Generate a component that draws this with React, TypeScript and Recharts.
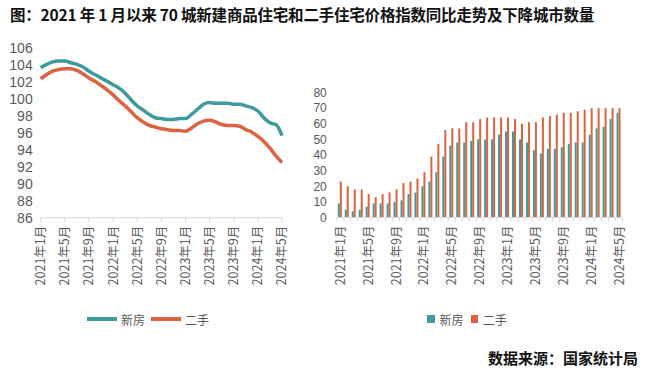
import React from 'react';
import { LineChart, Line, BarChart, Bar, XAxis, YAxis } from 'recharts';

const months: string[] = [
  '2021年1月','2021年2月','2021年3月','2021年4月','2021年5月','2021年6月','2021年7月','2021年8月','2021年9月','2021年10月','2021年11月','2021年12月',
  '2022年1月','2022年2月','2022年3月','2022年4月','2022年5月','2022年6月','2022年7月','2022年8月','2022年9月','2022年10月','2022年11月','2022年12月',
  '2023年1月','2023年2月','2023年3月','2023年4月','2023年5月','2023年6月','2023年7月','2023年8月','2023年9月','2023年10月','2023年11月','2023年12月',
  '2024年1月','2024年2月','2024年3月','2024年4月','2024年5月',
];

const newIndex: number[] = [
  103.7,104.1,104.4,104.5,104.5,104.3,104.1,103.8,103.3,102.9,102.5,102.1,
  101.7,101.3,100.7,99.9,99.2,98.7,98.2,97.8,97.7,97.6,97.6,97.7,
  97.7,98.2,98.8,99.4,99.6,99.5,99.5,99.5,99.4,99.4,99.2,99.0,
  98.6,97.8,97.2,97.0,95.7,
];
const usedIndex: number[] = [
  102.4,102.9,103.3,103.5,103.6,103.6,103.4,103.0,102.5,102.1,101.6,101.1,
  100.5,99.8,99.2,98.5,97.8,97.3,96.9,96.7,96.5,96.4,96.3,96.3,
  96.2,96.6,97.1,97.4,97.5,97.3,97.0,96.9,96.9,96.8,96.4,96.1,
  95.6,95.0,94.2,93.3,92.5,
];

const newDecline: number[] = [
  9,5,4,5,7,9,9,9,10,11,15,16,
  20,23,29,39,46,48,48,49,50,50,50,53,
  55,55,50,48,43,41,44,44,45,47,48,48,
  53,57,58,63,67,
];
const usedDecline: number[] = [
  23,20,18,18,15,13,15,16,18,22,23,25,
  29,39,47,56,57,57,61,61,63,64,64,64,
  64,63,60,61,61,64,65,66,67,67,68,69,
  70,70,70,70,70,
];

const leftTicks: number[] = [86, 88, 90, 92, 94, 96, 98, 100, 102, 104, 106];
const rightTicks: number[] = [0, 10, 20, 30, 40, 50, 60, 70, 80];

const lineData = months.map((m, i) => ({ month: m, 新房: newIndex[i], 二手: usedIndex[i] }));
const barData = months.map((m, i) => ({ month: m, 新房: newDecline[i], 二手: usedDecline[i] }));

const TEAL = '#3E9A9C';
const ORANGE = '#DC6341';
const TEXT = '#595959';
const AXIS = '#D9D9D9';
const FONT = '"Noto Sans CJK SC", "Noto Sans", sans-serif';
const NUMFONT = '"Liberation Sans", Arial, sans-serif';

const LeftTick = (props: any) => {
  const { x, y, payload } = props;
  return (
    <text
      transform={`rotate(-90, ${x}, ${y})`}
      x={x}
      y={y}
      dy="0.36em"
      textAnchor="end"
      fontSize={12.5}
      fill={TEXT}
      fontFamily={FONT}
    >
      {payload.value}
    </text>
  );
};

const RightTick = (props: any) => {
  const { x, y, payload, index } = props;
  const off = payload && typeof payload.offset === 'number' && payload.offset > 0 ? payload.offset : 3.48;
  const ly = y + 8;
  return (
    <g>
      <line x1={x - off} x2={x - off} y1={y} y2={y + 4} stroke={AXIS} strokeWidth={1} />
      {index === 40 ? <line x1={x + off} x2={x + off} y1={y} y2={y + 4} stroke={AXIS} strokeWidth={1} /> : null}
      {index % 4 === 0 ? (
        <text
          transform={`rotate(-90, ${x}, ${ly})`}
          x={x}
          y={ly}
          dy="0.36em"
          textAnchor="end"
          fontSize={12.5}
          fill={TEXT}
          fontFamily={FONT}
        >
          {payload.value}
        </text>
      ) : null}
    </g>
  );
};

export default function App() {
  return (
    <div
      style={{
        position: 'absolute',
        left: 0,
        top: 0,
        width: 648,
        height: 373,
        background: '#fff',
        fontFamily: FONT,
        overflow: 'hidden',
      }}
    >
      <div
        style={{
          position: 'absolute',
          left: 10,
          top: 3,
          fontSize: 15.5,
          fontWeight: 'bold',
          color: '#111',
          whiteSpace: 'nowrap',
          letterSpacing: -0.2,
        }}
      >
        图：2021 年 1 月以来 70 城新建商品住宅和二手住宅价格指数同比走势及下降城市数量
      </div>

      <div style={{ position: 'absolute', left: 0, top: 0 }}>
        <LineChart width={300} height={300} data={lineData} margin={{ top: 48.3, right: 18, left: 0, bottom: 7.3 }}>
          <XAxis
            dataKey="month"
            interval={3}
            height={75}
            axisLine={{ stroke: AXIS }}
            tickLine={{ stroke: AXIS }}
            tickSize={5}
            tickMargin={3}
            tick={<LeftTick />}
          />
          <YAxis
            domain={[86, 106]}
            ticks={leftTicks}
            interval={0}
            width={40.7}
            axisLine={false}
            tickLine={false}
            tickSize={0}
            tickMargin={8}
            tick={{ fontSize: 14, fill: TEXT, fontFamily: NUMFONT }}
            allowDataOverflow
          />
          <Line dataKey="新房" stroke={TEAL} strokeWidth={3.5} dot={false} type="monotone" isAnimationActive={false} />
          <Line dataKey="二手" stroke={ORANGE} strokeWidth={3.5} dot={false} type="monotone" isAnimationActive={false} />
        </LineChart>
      </div>

      <div style={{ position: 'absolute', left: 300, top: 0 }}>
        <BarChart
          width={340}
          height={300}
          data={barData}
          margin={{ top: 92.5, right: 17.5, left: 0, bottom: 7.5 }}
          barGap={0}
          barSize={2}
        >
          <XAxis
            dataKey="month"
            interval={0}
            height={75}
            axisLine={{ stroke: AXIS }}
            tickLine={false}
            tickSize={0}
            tickMargin={0}
            tick={<RightTick />}
          />
          <YAxis
            domain={[0, 80]}
            ticks={rightTicks}
            interval={0}
            width={36.8}
            axisLine={false}
            tickLine={false}
            tickSize={0}
            tickMargin={10}
            tick={{ fontSize: 12, fill: TEXT, fontFamily: NUMFONT }}
          />
          <Bar dataKey="新房" fill={TEAL} isAnimationActive={false} />
          <Bar dataKey="二手" fill={ORANGE} isAnimationActive={false} />
        </BarChart>
      </div>

      {/* left legend */}
      <div style={{ position: 'absolute', left: 87, top: 311, height: 16, display: 'flex', alignItems: 'center', fontSize: 12, color: TEXT, whiteSpace: 'nowrap' }}>
        <span style={{ display: 'inline-block', width: 30, height: 3.5, background: TEAL, marginRight: 4 }} />
        <span style={{ marginRight: 6 }}>新房</span>
        <span style={{ display: 'inline-block', width: 30, height: 3.5, background: ORANGE, marginRight: 4 }} />
        <span>二手</span>
      </div>

      {/* right legend */}
      <div style={{ position: 'absolute', left: 427, top: 311, height: 16, display: 'flex', alignItems: 'center', fontSize: 12, color: TEXT, whiteSpace: 'nowrap' }}>
        <span style={{ display: 'inline-block', width: 7.5, height: 7.5, background: TEAL, marginRight: 5 }} />
        <span style={{ marginRight: 7 }}>新房</span>
        <span style={{ display: 'inline-block', width: 7.5, height: 7.5, background: ORANGE, marginRight: 5 }} />
        <span>二手</span>
      </div>

      <div
        style={{
          position: 'absolute',
          right: 10,
          top: 347,
          fontSize: 15,
          fontWeight: 'bold',
          color: '#111',
          whiteSpace: 'nowrap',
        }}
      >
        数据来源：国家统计局
      </div>
    </div>
  );
}
